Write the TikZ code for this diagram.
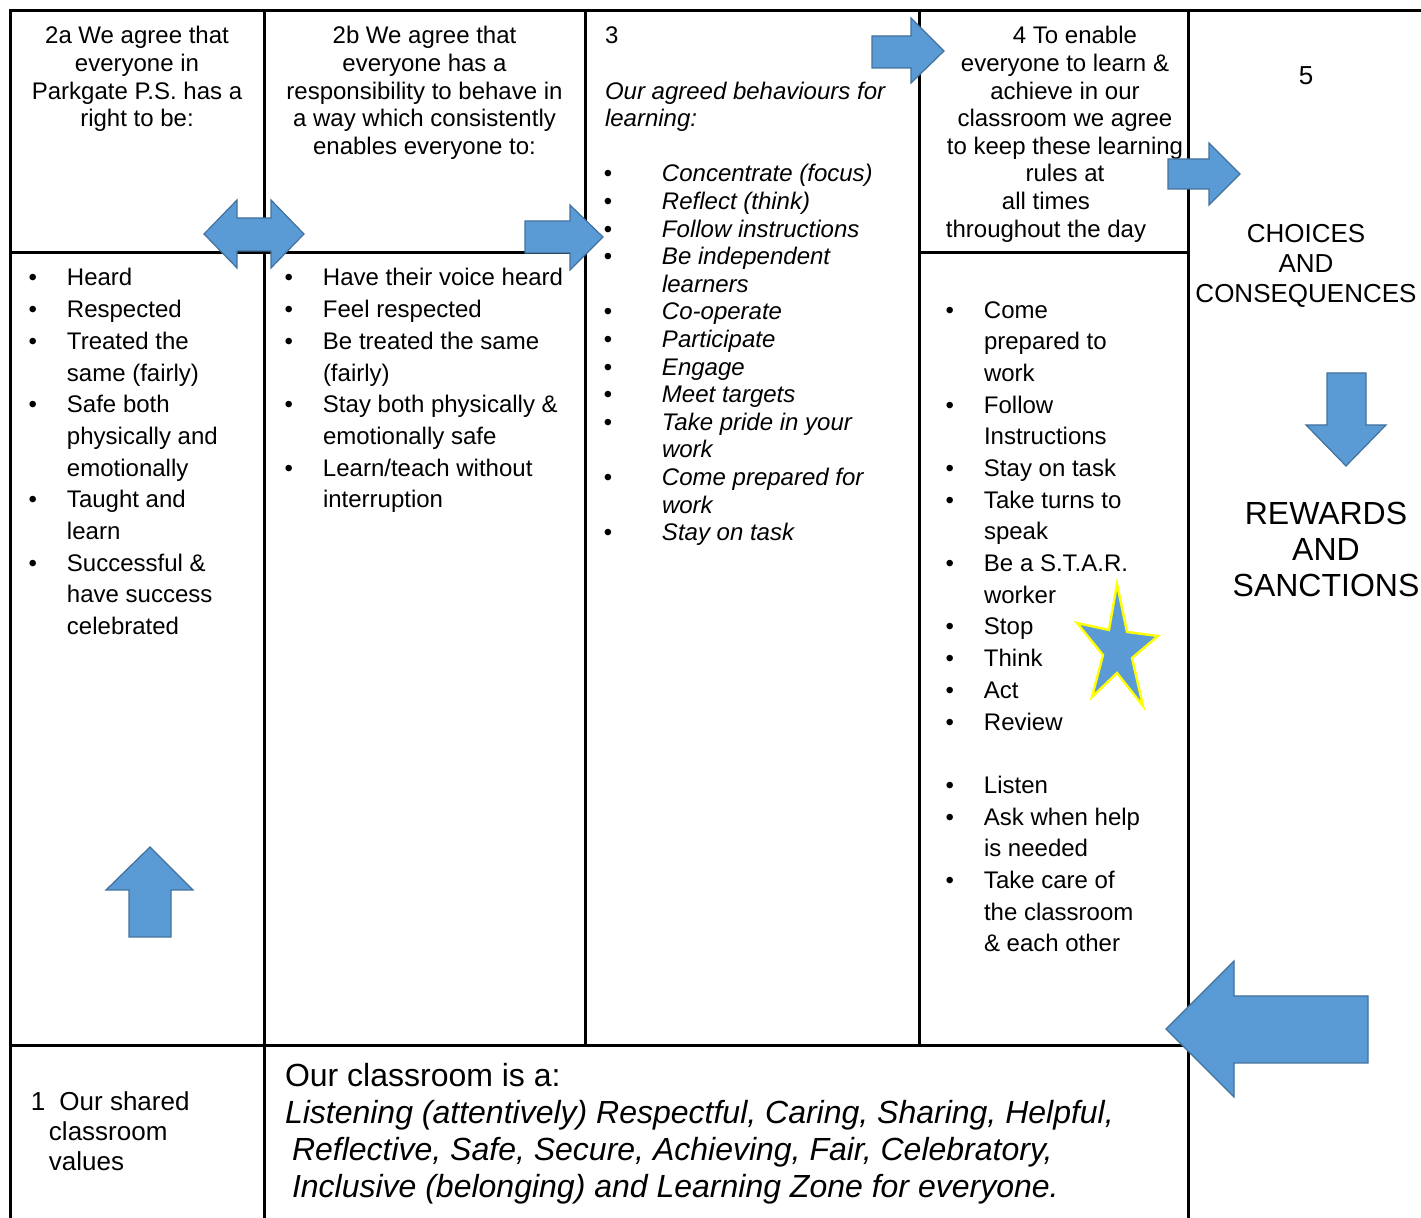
\documentclass[tikz,border=0pt]{standalone}
\usepackage{fontspec}
\setmainfont{Liberation Sans}
\usepackage{tikz}
\definecolor{arrowfill}{HTML}{5B9BD5}
\definecolor{arrowedge}{HTML}{41719C}
\definecolor{staredge}{HTML}{FFFF00}
\tikzstyle{tableline} = [line width=1.5pt, black]
\tikzstyle{blockarrow} = [fill=arrowfill, draw=arrowedge, line width=0.6pt, line join=miter]
\tikzstyle{bluestar} = [fill=arrowfill, draw=staredge, line width=1.2pt, line join=miter]
\newcommand{\itemdot}[1][15pt]{\llap{\textbullet\hspace{#1}}}
\newcommand{\wideitem}{\itemdot[25pt]}

\begin{document}
\begin{tikzpicture}[
    x=0.5pt, y=-0.5pt,
    every node/.style={inner sep=0pt, outer sep=0pt},
    head/.style={align=center, anchor=base, font=\fontsize{12}{13.8}\selectfont},
    list/.style={align=left, anchor=base west, font=\fontsize{12}{15.85}\selectfont}
]
\useasboundingbox (0,0) rectangle (1421,1218);

% Table lines
\draw[tableline] (10,1218) -- (10,11) -- (1421,11);
\draw[tableline] (264,11) -- (264,1218);
\draw[tableline] (585,11) -- (585,1046);
\draw[tableline] (919,11) -- (919,1046);
\draw[tableline] (1188,11) -- (1188,1218);
\draw[tableline] (10,253) -- (585,253);
\draw[tableline] (919,253) -- (1188,253);
\draw[tableline] (10,1046) -- (1188,1046);

% Nodes (placed at the baseline of their last line)
\node (hdrA) [head] at (137,126.8) {2a We agree that\\everyone in\\Parkgate P.S. has a\\right to be:};
\node (hdrB) [head] at (424.5,154.4) {2b We agree that\\everyone has a\\responsibility to behave in\\a way which consistently\\enables everyone to:};
\node (behavHead) [head, align=left, anchor=base west] at (605,126.8) {3\\\mbox{}\\\textit{Our agreed behaviours for}\\\textit{learning:}};
\node (hdrD) [head] at (1065,237.2) {\hspace*{10pt}4 To enable\\everyone to learn \&\\achieve in our\\classroom we agree\\to keep these learning\\rules at\\all times\hspace*{19pt}\mbox{}\\throughout the day\hspace*{19pt}\mbox{}};

\node (valsA) [list] at (67,634.7) {\itemdot Heard\\\itemdot Respected\\\itemdot Treated the\\same (fairly)\\\itemdot Safe both\\physically and\\emotionally\\\itemdot Taught and\\learn\\\itemdot Successful \&\\have success\\celebrated};
\node (valsB) [list] at (323,507.9) {\itemdot Have their voice heard\\\itemdot Feel respected\\\itemdot Be treated the same\\(fairly)\\\itemdot Stay both physically \&\\emotionally safe\\\itemdot Learn/teach without\\interruption};
\node (behavList) [list, font=\fontsize{12}{13.8}\selectfont\itshape] at (662,540.8) {\wideitem Concentrate (focus)\\\wideitem Reflect (think)\\\wideitem Follow instructions\\\wideitem Be independent\\learners\\\wideitem Co-operate\\\wideitem Participate\\\wideitem Engage\\\wideitem Meet targets\\\wideitem Take pride in your\\work\\\wideitem Come prepared for\\work\\\wideitem Stay on task};
\node (rulesD) [list] at (984,952) {\itemdot Come\\prepared to\\work\\\itemdot Follow\\Instructions\\\itemdot Stay on task\\\itemdot Take turns to\\speak\\\itemdot Be a S.T.A.R.\\worker\\\itemdot Stop\\\itemdot Think\\\itemdot Act\\\itemdot Review\\\mbox{}\\\itemdot Listen\\\itemdot Ask when help\\is needed\\\itemdot Take care of\\the classroom\\\& each other};

\node (five) [head, font=\fontsize{13}{15}\selectfont] at (1306,85) {5};
\node (choices) [head, font=\fontsize{13}{15}\selectfont] at (1306,303) {CHOICES\\AND\\CONSEQUENCES};
\node (rewards) [head, font=\fontsize{16}{18}\selectfont] at (1326,597) {REWARDS\\AND\\SANCTIONS};

\node (shared) [list, font=\fontsize{13}{15}\selectfont] at (31,1171) {1\hspace{7pt}Our shared\\\hspace*{9pt}classroom\\\hspace*{9pt}values};
\node (classroom) [list, font=\fontsize{16}{18.5}\selectfont] at (285,1198) {Our classroom is a:\\\textit{Listening (attentively) Respectful, Caring, Sharing, Helpful,}\\\hspace*{3.5pt}\textit{Reflective, Safe, Secure, Achieving, Fair, Celebratory,}\\\hspace*{3.5pt}\textit{Inclusive (belonging) and Learning Zone for everyone.}};

% Arrows
\draw[blockarrow] (204,234) -- (237,200) -- (237,218) -- (271,218) -- (271,200) -- (304,234) -- (271,268) -- (271,251) -- (237,251) -- (237,268) -- cycle;
\draw[blockarrow] (525,221) -- (570,221) -- (570,205) -- (603,237) -- (570,270) -- (570,253) -- (525,253) -- cycle;
\draw[blockarrow] (872,36) -- (911,36) -- (911,18) -- (944,51) -- (911,83) -- (911,68) -- (872,68) -- cycle;
\draw[blockarrow] (1168,159) -- (1209,159) -- (1209,143) -- (1240,174) -- (1209,205) -- (1209,189) -- (1168,189) -- cycle;
\draw[blockarrow] (1327,373) -- (1366,373) -- (1366,425) -- (1386,425) -- (1346,466) -- (1306,425) -- (1327,425) -- cycle;
\draw[blockarrow] (150,847) -- (193,890) -- (171,890) -- (171,937) -- (129,937) -- (129,890) -- (106,890) -- cycle;
\draw[blockarrow] (1166,1029) -- (1234,961) -- (1234,996) -- (1368,996) -- (1368,1063) -- (1234,1063) -- (1234,1097) -- cycle;

% Star
\draw[bluestar] (1117,584) -- (1127,632) -- (1158,636) -- (1132,658) -- (1143,706) -- (1117,673) -- (1092,697) -- (1103,655) -- (1077,623) -- (1109,630) -- cycle;

\end{tikzpicture}
\end{document}
